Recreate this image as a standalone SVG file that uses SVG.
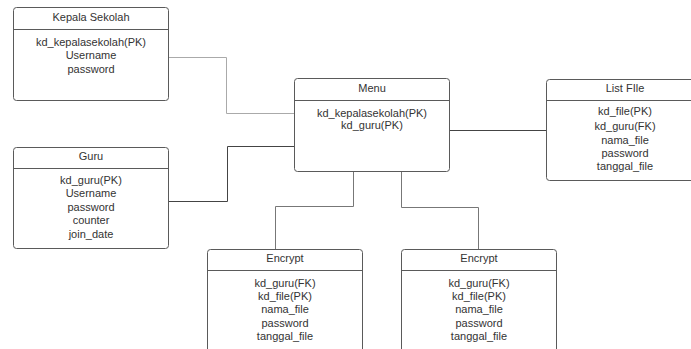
<svg xmlns="http://www.w3.org/2000/svg" width="691" height="349" viewBox="0 0 691 349">
<style>
.box{fill:#fff;stroke:#5a5a5a;stroke-width:1}
.div{stroke:#5a5a5a;stroke-width:1}
text{font-family:"Liberation Sans",Arial,sans-serif;font-size:11px;fill:#333;text-anchor:middle}
.c{fill:none;stroke-width:1}
</style>
<rect width="691" height="349" fill="#fff"/>
<g id="connectors">
<polyline class="c" stroke="#aaa" points="168,57.5 226.5,57.5 226.5,113.5 294,113.5"/>
<polyline class="c" stroke="#444" points="168,201.5 227.5,201.5 227.5,146.5 294,146.5"/>
<polyline class="c" stroke="#444" points="449,130.5 546,130.5"/>
<polyline class="c" stroke="#777" points="353.5,171 353.5,206.5 275.5,206.5 275.5,249"/>
<polyline class="c" stroke="#777" points="401.5,171 401.5,207.5 478.5,207.5 478.5,249"/>
</g>
<g id="kepala">
<rect class="box" x="13.5" y="7.5" width="155" height="93" rx="3"/>
<line class="div" x1="13.5" y1="29.5" x2="168.5" y2="29.5"/>
<text x="91" y="21">Kepala Sekolah</text>
<text x="91" y="46">kd_kepalasekolah(PK)</text>
<text x="91" y="59">Username</text>
<text x="91" y="73">password</text>
</g>
<g id="guru">
<rect class="box" x="13.5" y="147.5" width="155" height="101" rx="3"/>
<line class="div" x1="13.5" y1="168.5" x2="168.5" y2="168.5"/>
<text x="91" y="160">Guru</text>
<text x="91" y="184">kd_guru(PK)</text>
<text x="91" y="197">Username</text>
<text x="91" y="211">password</text>
<text x="91" y="224">counter</text>
<text x="91" y="238">join_date</text>
</g>
<g id="menu">
<rect class="box" x="294.5" y="78.5" width="155" height="93" rx="3"/>
<line class="div" x1="294.5" y1="100.5" x2="449.5" y2="100.5"/>
<text x="372" y="92">Menu</text>
<text x="372" y="117">kd_kepalasekolah(PK)</text>
<text x="372" y="129">kd_guru(PK)</text>
</g>
<g id="listfile">
<rect class="box" x="546.5" y="79.5" width="156" height="101" rx="3"/>
<line class="div" x1="546.5" y1="100.5" x2="702.5" y2="100.5"/>
<text x="625" y="92">List FIle</text>
<text x="625" y="115">kd_file(PK)</text>
<text x="625" y="130">kd_guru(FK)</text>
<text x="625" y="144">nama_file</text>
<text x="625" y="157">password</text>
<text x="625" y="170">tanggal_file</text>
</g>
<g id="encrypt1">
<rect class="box" x="207.5" y="249.5" width="155" height="110" rx="3"/>
<line class="div" x1="207.5" y1="270.5" x2="362.5" y2="270.5"/>
<text x="285" y="262">Encrypt</text>
<text x="285" y="287">kd_guru(FK)</text>
<text x="285" y="300">kd_file(PK)</text>
<text x="285" y="313">nama_file</text>
<text x="285" y="327">password</text>
<text x="285" y="340">tanggal_file</text>
</g>
<g id="encrypt2">
<rect class="box" x="401.5" y="249.5" width="155" height="110" rx="3"/>
<line class="div" x1="401.5" y1="270.5" x2="556.5" y2="270.5"/>
<text x="479" y="262">Encrypt</text>
<text x="479" y="287">kd_guru(FK)</text>
<text x="479" y="300">kd_file(PK)</text>
<text x="479" y="313">nama_file</text>
<text x="479" y="327">password</text>
<text x="479" y="340">tanggal_file</text>
</g>
</svg>
